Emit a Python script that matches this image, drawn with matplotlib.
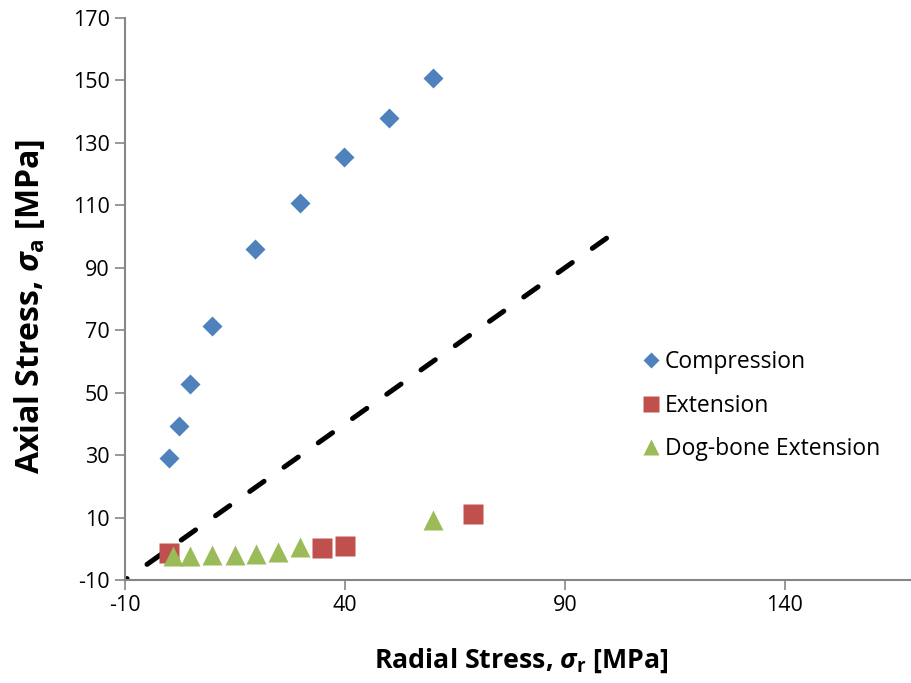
import matplotlib
matplotlib.use("Agg")
import matplotlib.pyplot as plt

# data
comp_x = [0, 2.3, 4.8, 9.8, 19.5, 29.8, 39.8, 50, 60]
comp_y = [29, 39.3, 52.8, 71.4, 96, 110.8, 125.5, 138, 150.8]

ext_x = [0, 34.8, 40, 69.2]
ext_y = [-1.4, 0.4, 0.8, 11.2]

dog_x = [0.8, 4.8, 9.8, 15, 19.8, 24.8, 29.8, 60]
dog_y = [-2.4, -2.4, -2.0, -2.0, -1.6, -1.0, 0.5, 9.3]

line_x = [-10, 100]
line_y = [-10, 100]

xticks = [-10, 40, 90, 140]
yticks = list(range(-10, 171, 20))

plt.rcParams['font.family'] = ['Open Sans', 'DejaVu Sans']
plt.rcParams['axes.unicode_minus'] = False
plt.rcParams['mathtext.fontset'] = 'custom'
plt.rcParams['mathtext.it'] = 'Open Sans:italic:bold'
plt.rcParams['mathtext.rm'] = 'Open Sans:bold'

fig = plt.figure(figsize=(9.12, 6.83), dpi=100)
ax = fig.add_axes([125 / 912, 103 / 683, 1 - 125 / 912, 562 / 683])

ax.plot(line_x, line_y, color='black', lw=3.6, ls=(3.0, (3.5, 4.9)),
        dash_capstyle='round', zorder=1)
ax.plot(comp_x, comp_y, 'D', color='#4f81bd', ms=10.5, mec='none', label='Compression', zorder=3)
ax.plot(ext_x, ext_y, 's', color='#c0504d', ms=14, mec='none', label='Extension', zorder=2)
ax.plot(dog_x, dog_y, '^', color='#9bbb59', ms=14.5, mec='none', label='Dog-bone Extension', zorder=3)

ax.set_xlim(-10, 168.9)
ax.set_ylim(-10, 170)
ax.set_xticks(xticks)
ax.set_yticks(yticks)

for s in ['top', 'right']:
    ax.spines[s].set_visible(False)
for s in ['left', 'bottom']:
    ax.spines[s].set_color('#868686')
    ax.spines[s].set_linewidth(1.5)
ax.tick_params(axis='both', direction='out', length=7, width=1.2, color='#868686',
               labelsize=15.5, pad=4)

ax.set_xlabel(r'Radial Stress, $\sigma_\mathrm{r}$ [MPa]', fontsize=19.3, fontweight='bold')
ax.set_ylabel(r'Axial Stress, $\sigma_\mathrm{a}$ [MPa]', fontsize=23, fontweight='bold')
ax.xaxis.set_label_coords(0.504, -0.118)
ax.yaxis.set_label_coords(-0.099, 0.4875)

ax.legend(loc='center left', bbox_to_anchor=(0.628, 0.31), frameon=False, fontsize=16.5,
          handletextpad=0.1, handlelength=1.0, labelspacing=0.85, markerscale=0.8)

fig.savefig('out.png', dpi=100)
